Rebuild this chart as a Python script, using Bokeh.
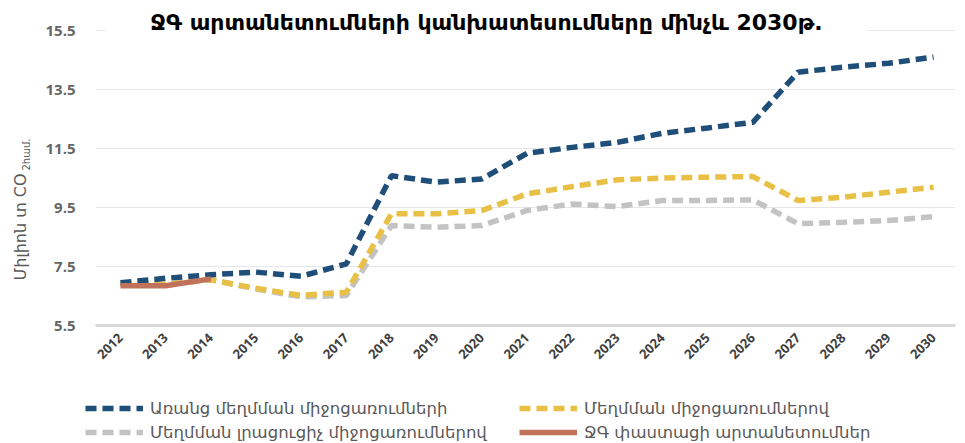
import math
from bokeh.plotting import figure
from bokeh.layouts import row, column
from bokeh.models import (ColumnDataSource, FixedTicker, Range1d, Label, Legend, LegendItem)
from bokeh.embed import file_html
from bokeh.resources import INLINE

# ---- data ----
years = list(range(2012, 2031))
no_mitigation = [6.95, 7.10, 7.22, 7.31, 7.17, 7.59, 10.58, 10.36, 10.47, 11.34,
                 11.54, 11.71, 12.02, 12.20, 12.39, 14.09, 14.26, 14.39, 14.60]
with_mitigation = [6.90, 6.90, 7.05, 6.76, 6.52, 6.63, 9.29, 9.29, 9.40, 9.96,
                   10.21, 10.44, 10.50, 10.53, 10.55, 9.74, 9.85, 10.02, 10.19]
additional_mitigation = [6.90, 6.90, 7.05, 6.74, 6.47, 6.52, 8.89, 8.83, 8.89, 9.40,
                         9.62, 9.53, 9.74, 9.74, 9.76, 8.95, 9.00, 9.06, 9.19]
actual_years = [2012, 2013, 2014]
actual = [6.85, 6.85, 7.08]

y_ticks = [5.5, 7.5, 9.5, 11.5, 13.5, 15.5]

title_text = "ՋԳ արտանետումների կանխատեսումները մինչև 2030թ."
ylabel_main = "Միլիոն տ CO"
ylabel_sub = "2համ."
names = ["Առանց մեղմման միջոցառումների", "Մեղմման միջոցառումներով",
         "Մեղմման լրացուցիչ միջոցառումներով", "ՋԳ փաստացի արտանետումներ"]

BLUE = "#1f4e79"
YELLOW = "#e9c046"
GRAY = "#c3c3c3"
BROWN = "#c0735a"
ARM_FONT = "DejaVu Sans"
DASH = "11 6"
LW = 5.5

src = ColumnDataSource(dict(x=years, a=no_mitigation, b=with_mitigation, c=additional_mitigation))
src_act = ColumnDataSource(dict(x=actual_years, y=actual))

# ---- main chart ----
p = figure(width=922, height=395, output_backend="svg", toolbar_location=None,
           x_range=Range1d(2011.447, 2030.486), y_range=Range1d(5.5, 16.52),
           min_border_left=57, min_border_right=5, min_border_top=0, min_border_bottom=70)
p.outline_line_color = None

p.line("x", "c", source=src, color=GRAY, line_width=LW, line_dash=DASH)
p.line("x", "b", source=src, color=YELLOW, line_width=LW, line_dash=DASH)
p.line("x", "a", source=src, color=BLUE, line_width=LW, line_dash=DASH)
p.line("x", "y", source=src_act, color=BROWN, line_width=LW)

p.xaxis.ticker = FixedTicker(ticks=years)
p.yaxis.ticker = FixedTicker(ticks=y_ticks)
p.xaxis.major_label_orientation = math.pi / 4
p.xaxis.major_label_text_font = "Open Sans"
p.xaxis.major_label_text_font_style = "bold"
p.xaxis.major_label_text_font_size = "13px"
p.xaxis.major_label_text_color = "#404040"
p.yaxis.major_label_text_font = "Open Sans"
p.yaxis.major_label_text_font_style = "bold"
p.yaxis.major_label_text_font_size = "15px"
p.yaxis.major_label_text_color = "#666666"
p.yaxis.major_label_standoff = 14
p.xaxis.major_label_standoff = 4
for ax in (p.xaxis, p.yaxis):
    ax.major_tick_line_color = None
    ax.minor_tick_line_color = None
p.yaxis.axis_line_color = None
p.xaxis.axis_line_color = "#d9d9d9"
p.xaxis.axis_line_width = 3
p.xgrid.grid_line_color = None
p.ygrid.grid_line_color = "#e6e6e6"

title = Label(x=391, y=303, x_units="screen", y_units="screen", text=title_text,
              text_align="center", text_baseline="middle",
              text_font=ARM_FONT, text_font_style="bold", text_font_size="22px",
              text_color="black", background_fill_color="white", padding=(45, 2))
p.add_layout(title)

# ---- y label strip (its frame is aligned with the chart frame) ----
ylab = figure(width=38, height=395, output_backend="svg", toolbar_location=None,
              x_range=Range1d(0, 1), y_range=Range1d(0, 1),
              x_axis_location=None, y_axis_location=None, min_border=0)
ylab.outline_line_color = None
ylab.grid.grid_line_color = None
ylab.add_layout(Label(x=20, y=45, x_units="screen", y_units="screen", text=ylabel_main,
                      angle=math.pi / 2, text_align="left", text_baseline="middle",
                      text_font=ARM_FONT, text_font_size="16px", text_color="#595959"))
ylab.add_layout(Label(x=26, y=155, x_units="screen", y_units="screen", text=ylabel_sub,
                      angle=math.pi / 2, text_align="left", text_baseline="middle",
                      text_font=ARM_FONT, text_font_size="10px", text_color="#595959"))

# ---- legend strip (series drawn outside its visible range, only their legend glyphs show) ----
lf = figure(width=960, height=48, output_backend="svg", toolbar_location=None,
            x_range=Range1d(0, 1), y_range=Range1d(0, 1),
            x_axis_location=None, y_axis_location=None, min_border=0)
lf.outline_line_color = None
lf.grid.grid_line_color = None
la = lf.line("x", "a", source=src, color=BLUE, line_width=LW, line_dash=DASH)
lb = lf.line("x", "b", source=src, color=YELLOW, line_width=LW, line_dash=DASH)
lc = lf.line("x", "c", source=src, color=GRAY, line_width=LW, line_dash=DASH)
ld = lf.line("x", "y", source=src_act, color=BROWN, line_width=LW)

def make_legend(items, loc):
    return Legend(items=items, location=loc, orientation="vertical",
                  padding=0, margin=0, spacing=4, label_height=20, glyph_height=20,
                  glyph_width=58, label_standoff=7, border_line_color=None,
                  background_fill_alpha=0, label_text_font=ARM_FONT,
                  label_text_font_size="16.5px", label_text_color="#595959")

lf.add_layout(make_legend([LegendItem(label=names[0], renderers=[la]),
                           LegendItem(label=names[2], renderers=[lc])], (85, 1)))
lf.add_layout(make_legend([LegendItem(label=names[1], renderers=[lb]),
                           LegendItem(label=names[3], renderers=[ld])], (519, 1)))

layout = column(row(ylab, p, spacing=0), lf, spacing=0)
open("out.html", "w").write(file_html(layout, INLINE))
